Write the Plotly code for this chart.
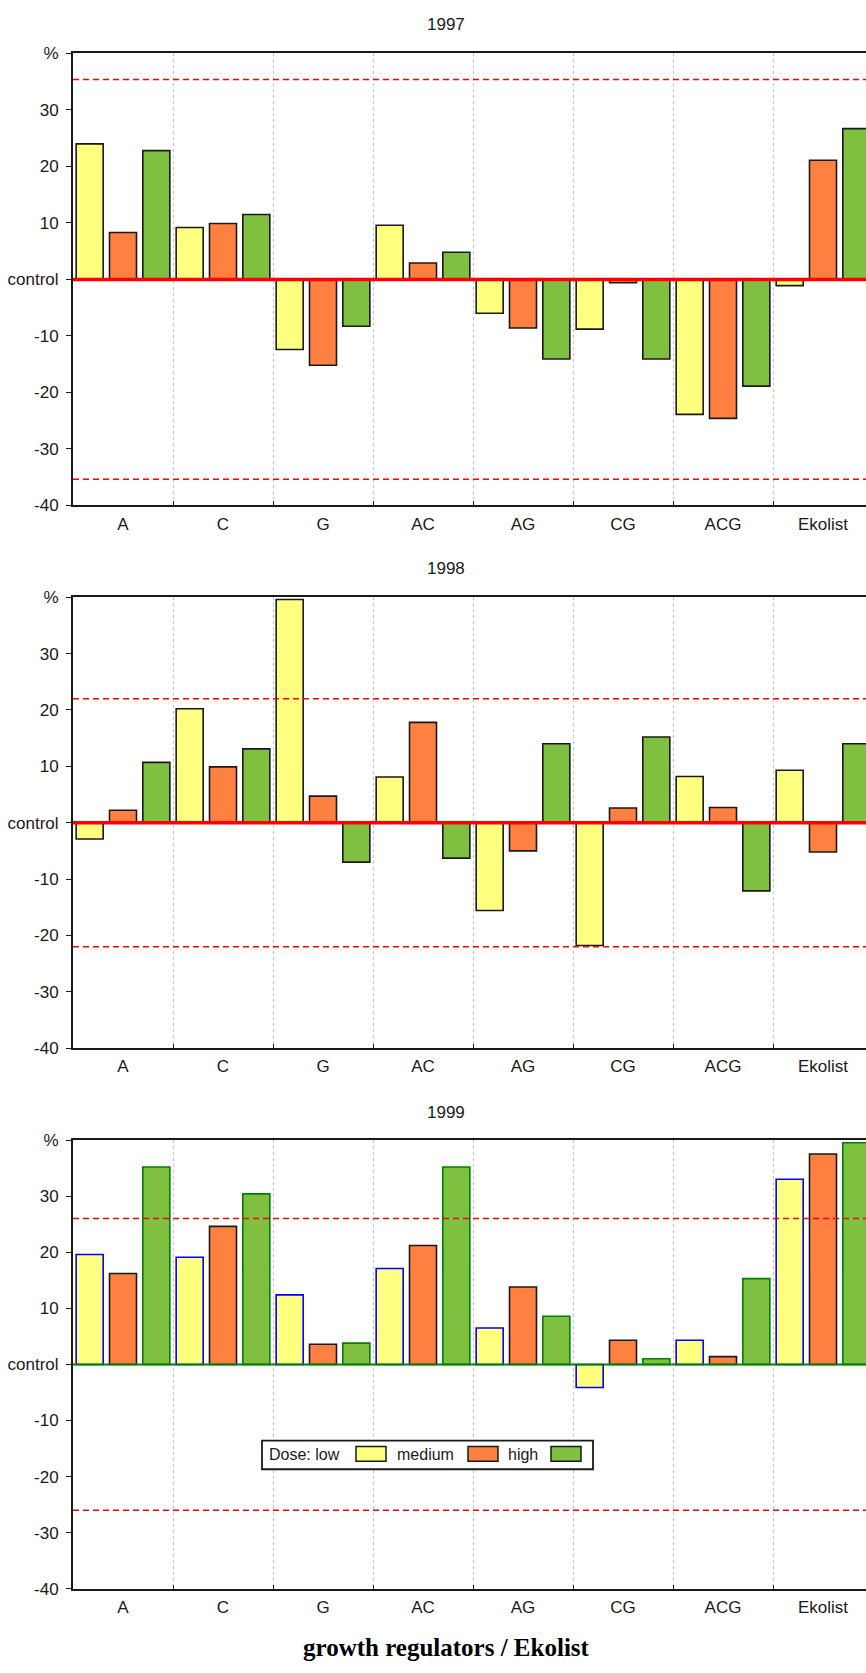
import plotly.graph_objects as go

# Relative change versus control (%), per growth regulator and dose
groups = ["A", "C", "G", "AC", "AG", "CG", "ACG", "Ekolist"]
doses = ["low", "medium", "high"]
years = [1997, 1998, 1999]

y1997_low = [24.0, 9.2, -12.4, 9.6, -6.0, -8.8, -23.9, -1.1]
y1997_medium = [8.3, 9.9, -15.2, 2.9, -8.6, -0.6, -24.6, 21.1]
y1997_high = [22.8, 11.5, -8.3, 4.8, -14.1, -14.1, -18.9, 26.7]

y1998_low = [-2.9, 20.2, 39.6, 8.1, -15.6, -21.8, 8.2, 9.3]
y1998_medium = [2.2, 9.9, 4.7, 17.8, -5.0, 2.6, 2.7, -5.2]
y1998_high = [10.7, 13.1, -7.0, -6.3, 14.0, 15.2, -12.1, 14.0]

y1999_low = [19.6, 19.1, 12.4, 17.1, 6.5, -4.1, 4.3, 33.0]
y1999_medium = [16.2, 24.6, 3.6, 21.2, 13.8, 4.3, 1.4, 37.5]
y1999_high = [35.2, 30.4, 3.8, 35.2, 8.6, 1.0, 15.3, 39.5]

# least significant difference bands
lsd_values = [35.4, 22.0, 26.0]

y_tickvals = [-40, -30, -20, -10, 0, 10, 20, 30, 40]
y_ticktext = ["-40", "-30", "-20", "-10", "control", "10", "20", "30", "%"]

series = {
    1997: [y1997_low, y1997_medium, y1997_high],
    1998: [y1998_low, y1998_medium, y1998_high],
    1999: [y1999_low, y1999_medium, y1999_high],
}

fill_colors = ["#FFFF80", "#FF8040", "#80C040"]
outline_default = ["#1a1a1a", "#1a1a1a", "#1a1a1a"]
outline_1999 = ["#0000FF", "#1a1a1a", "#008000"]

W, H = 866, 1673
ML = 73
PLOT_W = W - ML
# panel pixel extents (top, bottom)
panel_px = [(45, 502), (595, 1051), (1144, 1598)]
title_px = [16, 566, 1116]


def px_x(x):
    return (x - ML) / PLOT_W


def px_y(y):
    return 1 - y / H


FONT = "Arial, Liberation Sans, sans-serif"
TXT = "#1a1a1a"
FS = 17

fig = go.Figure()
shapes = []
annotations = []

for i, year in enumerate(years):
    k = "" if i == 0 else str(i + 1)
    xa, ya = "x" + k, "y" + k
    outlines = outline_1999 if year == 1999 else outline_default
    for d, vals in enumerate(series[year]):
        fig.add_trace(go.Bar(
            x=groups, y=vals, name=doses[d], xaxis=xa, yaxis=ya,
            marker=dict(color=fill_colors[d],
                        line=dict(color=outlines[d], width=1.6)),
            showlegend=False,
        ))
    top, bot = panel_px[i]
    fig.layout["xaxis" + k] = dict(
        domain=[0, 1], anchor=ya, type="category",
        range=[-0.5, -0.5 + PLOT_W / 100.0],
        tickson="boundaries", ticks="inside", ticklen=4, tickcolor="#1a1a1a",
        showgrid=True, gridcolor="#C4C4C4", griddash="dot", gridwidth=1,
        showline=True, linecolor="#1a1a1a", linewidth=2, mirror=True,
        tickfont=dict(family=FONT, size=FS, color=TXT),
        ticklabelstandoff=2, zeroline=False, fixedrange=True,
    )
    fig.layout["yaxis" + k] = dict(
        domain=[px_y(bot), px_y(top)], anchor=xa,
        range=[-40, 40], tickvals=y_tickvals, ticktext=y_ticktext,
        ticks="outside", ticklen=5, tickcolor="#1a1a1a",
        showgrid=False, zeroline=False,
        showline=True, linecolor="#1a1a1a", linewidth=2,
        tickfont=dict(family=FONT, size=FS, color=TXT),
        ticklabelstandoff=4, fixedrange=True,
    )
    # LSD limits
    for sgn in (1, -1):
        shapes.append(dict(
            type="line", xref=xa + " domain", yref=ya,
            x0=0, x1=1, y0=sgn * lsd_values[i], y1=sgn * lsd_values[i],
            line=dict(color="#FF0000", width=1.5, dash="6px,4px"), layer="above",
        ))
    # control baseline
    if year == 1999:
        base = dict(color="#008000", width=2)
    else:
        base = dict(color="#FF0000", width=3.5)
    shapes.append(dict(
        type="line", xref=xa + " domain", yref=ya,
        x0=0, x1=1, y0=0, y1=0, line=base, layer="above",
    ))
    annotations.append(dict(
        text=str(year), xref="paper", yref="paper",
        x=px_x(446), y=px_y(title_px[i]), xanchor="center", yanchor="middle",
        showarrow=False, font=dict(family=FONT, size=FS, color=TXT),
    ))

# dose key inside the 1999 panel: label followed by its swatch
key_box = (262, 1448, 593, 1477)
shapes.append(dict(
    type="rect", xref="paper", yref="paper",
    x0=px_x(key_box[0]), x1=px_x(key_box[2]),
    y0=px_y(key_box[3]), y1=px_y(key_box[1]),
    line=dict(color="#1a1a1a", width=1.8), fillcolor="white", layer="above",
))
key_labels = ["Dose: low", "medium", "high"]
key_label_right = [342, 456, 540]
key_swatch_left = [356, 468, 551]
for d in range(3):
    annotations.append(dict(
        text=key_labels[d], xref="paper", yref="paper",
        x=px_x(key_label_right[d]), y=px_y(1462), xanchor="right", yanchor="middle",
        showarrow=False, font=dict(family=FONT, size=16, color=TXT),
    ))
    shapes.append(dict(
        type="rect", xref="paper", yref="paper",
        x0=px_x(key_swatch_left[d]), x1=px_x(key_swatch_left[d] + 30),
        y0=px_y(1469), y1=px_y(1454),
        line=dict(color="#1a1a1a", width=1.5), fillcolor=fill_colors[d], layer="above",
    ))

annotations.append(dict(
    text="<b>growth regulators / Ekolist</b>", xref="paper", yref="paper",
    x=px_x(446), y=px_y(1657), xanchor="center", yanchor="middle",
    showarrow=False,
    font=dict(family="Times New Roman, Liberation Serif, serif", size=25, color="#000000"),
))

fig.update_layout(
    width=W, height=H,
    margin=dict(l=ML, r=0, t=0, b=0, pad=0),
    barmode="group", bargap=0.0, bargroupgap=0.19,
    plot_bgcolor="white", paper_bgcolor="white",
    shapes=shapes, annotations=annotations,
    showlegend=False,
)

fig.write_html("out.html")
